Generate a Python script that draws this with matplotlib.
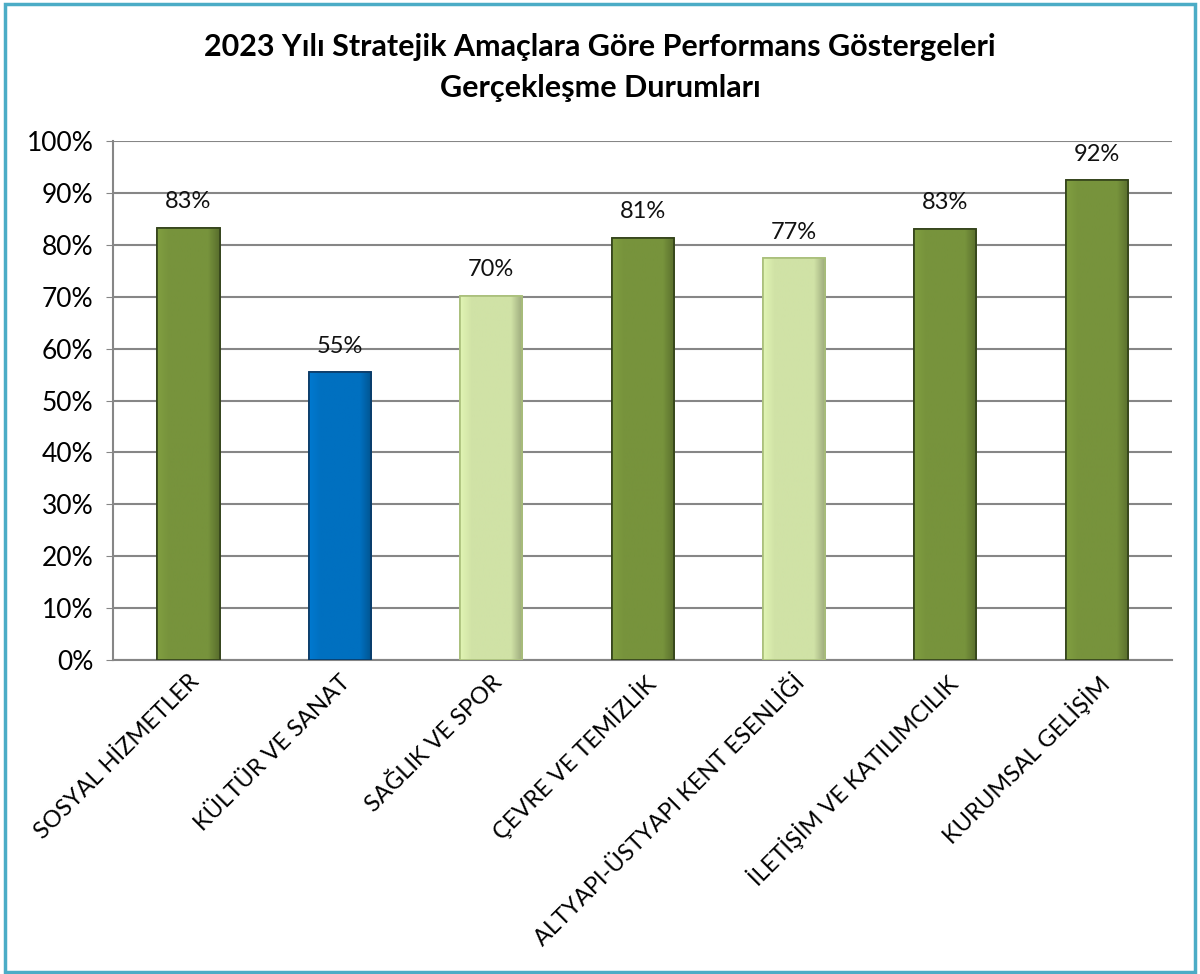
import numpy as np
import matplotlib.pyplot as plt
from matplotlib.patches import Rectangle
from matplotlib.colors import to_rgb

# data
categories = ["SOSYAL HİZMETLER", "KÜLTÜR VE SANAT", "SAĞLIK VE SPOR",
              "ÇEVRE VE TEMİZLİK", "ALTYAPI-ÜSTYAPI KENT ESENLİĞİ",
              "İLETİŞİM VE KATILIMCILIK", "KURUMSAL GELİŞİM"]
values = [83.3, 55.4, 70.2, 81.4, 77.4, 83.1, 92.4]
bar_colors = ["#77933c", "#0070c0", "#d0e2a6", "#77933c", "#d0e2a6", "#77933c", "#77933c"]
edge_colors = ["#33421a", "#0b3a66", "#a9bf7a", "#33421a", "#a9bf7a", "#33421a", "#33421a"]
yticks = np.arange(0, 101, 10)

plt.rcParams['font.family'] = ['Lato', 'DejaVu Sans']

fig = plt.figure(figsize=(12, 9.74), dpi=100)
ax = fig.add_axes([0.094, 0.3224, 0.883, 0.5328])

x = np.arange(len(categories))
width = 0.41
bars = ax.bar(x, values, width=width, color=bar_colors, edgecolor=edge_colors,
              linewidth=1.2, zorder=3)

# soft horizontal shading inside each bar (lighter left, darker right edge)
shade = np.concatenate([np.linspace(1.08, 1.0, 10), np.ones(30), np.linspace(1.0, 0.75, 10)])
for b, c in zip(bars, bar_colors):
    rgb = np.clip(np.outer(shade, to_rgb(c)), 0, 1)[None, :, :]
    x0, w, h = b.get_x(), b.get_width(), b.get_height()
    im = ax.imshow(rgb, extent=(x0, x0 + w, 0, h), aspect='auto', zorder=3.5,
                   interpolation='bilinear')
    im.set_clip_path(b)
    ax.add_patch(Rectangle((x0, 0), w, h, fill=False, edgecolor=b.get_edgecolor(),
                           linewidth=1.2, zorder=3.6))

# data labels
for xi, v in zip(x, values):
    ax.text(xi, v + 3, f"{round(v)}%", ha='center', va='bottom', fontsize=17,
            color='#111111', zorder=4)

ax.set_xlim(-0.5, len(categories) - 0.5)
ax.set_ylim(0, 100)
ax.set_yticks(yticks)
ax.set_yticklabels([f"{t}%" for t in yticks], fontsize=19)
ax.set_xticks(x)
ax.set_xticklabels(categories, rotation=45, ha='right', rotation_mode='anchor',
                   fontsize=17)
ax.tick_params(axis='x', length=0, pad=8)
ax.tick_params(axis='y', length=5, color='#868686', pad=9)

ax.grid(axis='y', color='#868686', linewidth=1.5, zorder=0)
for side in ['top', 'right']:
    ax.spines[side].set_visible(False)
for side in ['left', 'bottom']:
    ax.spines[side].set_color('#868686')
    ax.spines[side].set_linewidth(1.5)

fig.text(0.5, 0.952, "2023 Yılı Stratejik Amaçlara Göre Performans Göstergeleri",
         ha='center', va='center', fontsize=22, fontweight='bold')
fig.text(0.5, 0.910, "Gerçekleşme Durumları",
         ha='center', va='center', fontsize=22, fontweight='bold')

# outer frame
fig.patches.append(Rectangle((0.004, 0.002), 0.992, 0.994, transform=fig.transFigure,
                             fill=False, edgecolor='#4bacc6', linewidth=2.5))

fig.savefig("out.png", dpi=100)
